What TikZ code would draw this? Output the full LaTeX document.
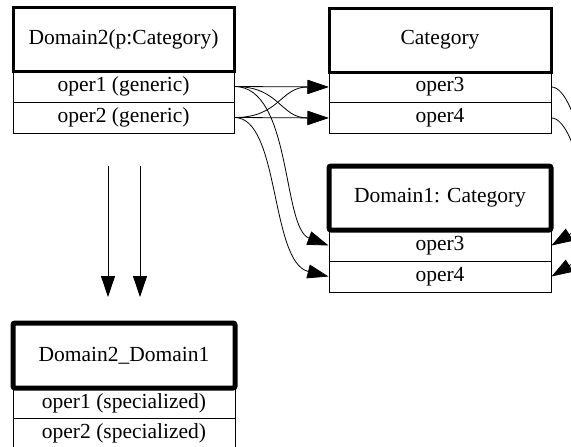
\documentclass[tikz,border=0pt]{standalone}
\usepackage{fontspec}
\setmainfont{Liberation Serif}
\usetikzlibrary{arrows.meta}
\begin{document}
\begin{tikzpicture}[x=1pt,y=-1pt,
  cell/.style={draw, line width=1pt, rectangle, minimum height=31pt, inner sep=0pt,
    font=\fontsize{21.5}{23}\selectfont},
  head/.style={draw, rectangle, minimum height=64pt, inner sep=0pt,
    font=\fontsize{21.5}{23}\selectfont},
  thickhead/.style={head, line width=3pt},
  heavyhead/.style={head, line width=5pt, rounded corners=2pt},
  link/.style={line width=0.8pt, -{Triangle[length=21pt,width=14pt]}}
]
\useasboundingbox (0,0) rectangle (571,447);
\clip (0,0) rectangle (571,447);
\fill[white] (0,0) rectangle (571,447);

% Domain2(p:Category)
\node[cell, minimum width=221pt] (d2o1) at (123.5,86.5) {oper1 (generic)};
\node[cell, minimum width=221pt] (d2o2) at (123.5,117.5) {oper2 (generic)};
\node[thickhead, minimum width=221pt] (d2) at (123.5,39.5) {Domain2(p:Category)};

% Category
\node[cell, minimum width=222pt] (co3) at (440,87) {oper3};
\node[cell, minimum width=222pt] (co4) at (440,118) {oper4};
\node[thickhead, minimum width=222pt] (cat) at (440,40) {Category};

% Domain1: Category
\node[cell, minimum width=222pt] (d1o3) at (440,245.5) {oper3};
\node[cell, minimum width=222pt] (d1o4) at (440,276.5) {oper4};
\node[heavyhead, minimum width=222pt] (d1) at (440,198) {Domain1: Category};

% Domain2_Domain1
\node[cell, minimum width=222pt, minimum height=30pt] (ddo1) at (124,403) {oper1 (specialized)};
\node[cell, minimum width=222pt, minimum height=30pt] (ddo2) at (124,433) {oper2 (specialized)};
\node[heavyhead, minimum width=222pt, minimum height=65pt] (dd) at (124,355.5) {Domain2\_Domain1};

% generic operations bound to the category operations
\draw[link] (d2o1.east) -- (co3.west);
\draw[link] (d2o2.east) -- (co4.west);
\draw[link] (d2o1.east) .. controls (280,86.5) and (280,118) .. (co4.west);
\draw[link] (d2o2.east) .. controls (280,117.5) and (280,87) .. (co3.west);

% generic operations bound to Domain1
\draw[link] (d2o1.east) .. controls (292,86.5) and (282,228) .. (d1o3.west);
\draw[link] (d2o2.east) .. controls (280,117.5) and (270,262) .. (d1o4.west);

% category operations implemented by Domain1
\draw[link] (co3.east) .. controls (578,87) and (602,215) .. (d1o3.east);
\draw[link] (co4.east) .. controls (578,118) and (602,246) .. (d1o4.east);

% instantiation arrows
\coordinate (a1) at (108,166);
\coordinate (b1) at (108,297);
\coordinate (a2) at (140,166);
\coordinate (b2) at (140,297);
\draw[link] (a1) -- (b1);
\draw[link] (a2) -- (b2);
\end{tikzpicture}
\end{document}
